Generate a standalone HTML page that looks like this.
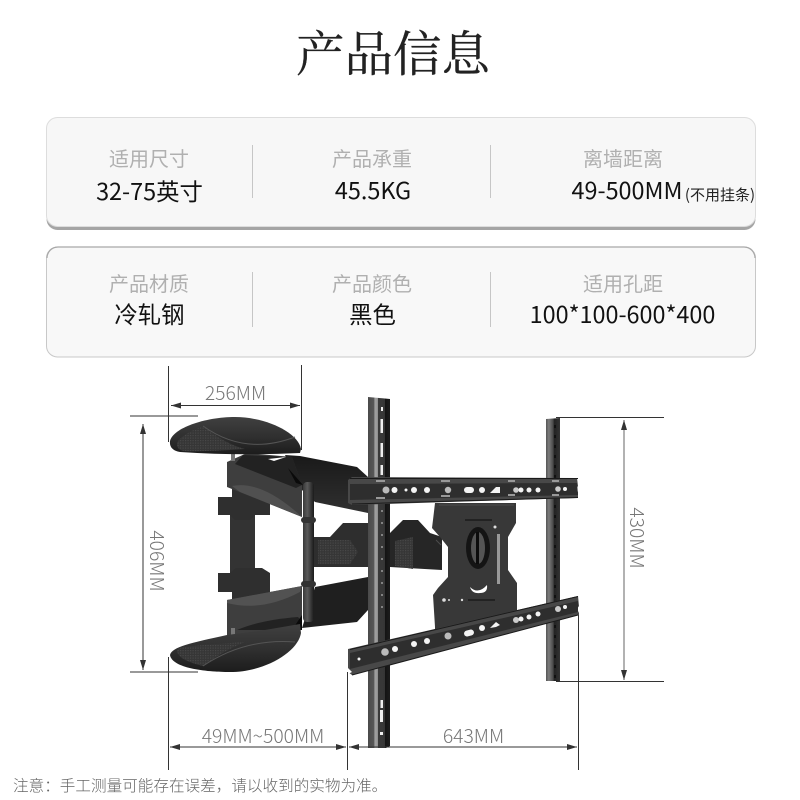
<!DOCTYPE html>
<html lang="zh"><head><meta charset="utf-8"><title>产品信息</title>
<style>
html,body{margin:0;padding:0;background:#fff}
svg{display:block}
text{font-family:"Noto Sans CJK SC","Liberation Sans",sans-serif}
.l{font-size:20px;fill:#b0b0b0;text-anchor:middle;font-weight:400}
.v{font-size:23.400px;fill:#111;text-anchor:middle;font-weight:400}
.d{font-size:19.300px;fill:#777;text-anchor:middle;font-weight:300}
</style></head><body>
<svg width="800" height="800" viewBox="0 0 800 800" xmlns="http://www.w3.org/2000/svg">
<defs>
<linearGradient id="pad" x1="0" y1="0" x2="0" y2="1"><stop offset="0" stop-color="#404040"/><stop offset=".55" stop-color="#2f2f2f"/><stop offset="1" stop-color="#1c1c1c"/></linearGradient>
<linearGradient id="arm" x1="0" y1="0" x2="0" y2="1"><stop offset="0" stop-color="#191919"/><stop offset="1" stop-color="#303030"/></linearGradient>
<linearGradient id="post" x1="0" y1="0" x2="1" y2="0"><stop offset="0" stop-color="#383838"/><stop offset=".4" stop-color="#5a5a5a"/><stop offset="1" stop-color="#1a1a1a"/></linearGradient>
<linearGradient id="col" x1="0" y1="0" x2="1" y2="0">
<stop offset="0" stop-color="#4a4a4a"/><stop offset=".28" stop-color="#585858"/><stop offset=".3" stop-color="#a0a0a0"/><stop offset=".44" stop-color="#989898"/><stop offset=".46" stop-color="#3a3a3a"/><stop offset=".76" stop-color="#363636"/><stop offset=".78" stop-color="#141414"/><stop offset="1" stop-color="#1c1c1c"/></linearGradient>
<linearGradient id="col2" x1="0" y1="0" x2="1" y2="0">
<stop offset="0" stop-color="#555"/><stop offset=".2" stop-color="#7c7c7c"/><stop offset=".5" stop-color="#4a4a4a"/><stop offset=".6" stop-color="#222"/><stop offset="1" stop-color="#333"/></linearGradient>
<pattern id="dots" width="2.500" height="2.500" patternUnits="userSpaceOnUse"><rect width="2.500" height="2.500" fill="#363636"/><rect width="1.200" height="1.200" fill="#484848"/></pattern>
<marker id="a" viewBox="0 0 10 6" refX="10" refY="3" markerWidth="10" markerHeight="6" orient="auto-start-reverse" markerUnits="userSpaceOnUse"><path d="M0,0L10,3L0,6Z" fill="#333"/></marker>
</defs>

<text x="393" y="71" font-size="48.500" text-anchor="middle" fill="#222" stroke="#222" stroke-width=".3" style="font-family:'Noto Serif CJK SC',serif">产品信息</text>

<rect x="46.500" y="120" width="709" height="110" rx="11" fill="#a5a5a5"/>
<rect x="46.500" y="117.500" width="709" height="109" rx="11" fill="#f7f7f7" stroke="#ddd"/>
<rect x="46.500" y="247" width="709" height="110" rx="11" fill="#f8f8f8" stroke="#c8c8c8"/>
<path d="M47 258a11 11 0 0 1 11-11H744a11 11 0 0 1 11 11" fill="none" stroke="#a8a8a8" stroke-width="1.200"/>
<path d="M252.500 145V198M490.500 145V198M252.500 272V327M490.500 272V327" stroke="#c6c6c6"/>

<text class="l" x="149" y="166">适用尺寸</text>
<text class="l" x="372" y="166">产品承重</text>
<text class="l" x="623" y="166">离墙距离</text>
<text class="l" x="149" y="291">产品材质</text>
<text class="l" x="372" y="291">产品颜色</text>
<text class="l" x="623" y="291">适用孔距</text>
<text class="v" x="149.500" y="200">32-75英寸</text>
<text class="v" x="373" y="199">45.5KG</text>
<text class="v" x="627" y="199">49-500MM</text>
<text x="720" y="200" font-size="15" fill="#222" text-anchor="middle">(不用挂条)</text>
<text class="v" x="149.500" y="323">冷轧钢</text>
<text class="v" x="372.500" y="323">黑色</text>
<text class="v" x="622.500" y="323">100*100-600*400</text>

<!-- mount: hinge -->
<path d="M230,510H255V575H230Z" fill="#333"/>
<path d="M218,497H232V480H270V515H255L250,520H235L230,515H218Z" fill="#2f2f2f"/>
<path d="M218,573H230L236,568H262L270,573V602H232V592H218Z" fill="#2f2f2f"/>
<!-- arms -->
<path d="M285,455L300,456L357,467L368,477V513L315,502L302,490Z" fill="url(#arm)"/>
<path d="M315,587L368,577V610L357,622L302,628Z" fill="#1f1f1f"/>
<path d="M227,462L247,453L292,457L302,485V517L227,487Z" fill="#3e3e3e"/>
<path d="M243,455L292,457L302,485L296,488L235,464Z" fill="#222"/>
<path d="M232,486Q262,480 302,517L240,492Z" fill="#505050"/>
<path d="M227,600L302,586V620L297,628L240,636H227Z" fill="#3e3e3e"/>
<path d="M227,600L302,586L300,592Q262,612 227,603Z" fill="#525252"/>
<path d="M237,630Q260,620 298,617L302,622V630H240Z" fill="#222"/>
<path d="M288,468L303,485L296,483Z" fill="#0a0a0a"/>
<path d="M292,630L302,615V630Z" fill="#0a0a0a"/>
<path d="M268,459L286,457L274,461Z" fill="#fff"/>
<rect x="231" y="453" width="4" height="8" fill="#777"/>
<rect x="231" y="628" width="4" height="8" fill="#777"/>
<path d="M303,537H330L343,523H368V567H303Z" fill="#2e2e2e"/>
<rect x="303" y="482" width="11" height="140" rx="4" fill="url(#post)"/>
<rect x="301" y="517" width="15" height="6" rx="3" fill="#333"/>
<rect x="301" y="581" width="15" height="6" rx="3" fill="#333"/>
<path d="M318,540H350L358,552L350,564H318Z" fill="url(#dots)"/>
<path d="M390,533L403,520H418L430,533L442,537V570L390,567Z" fill="#262626"/>
<path d="M395,541L413,537V569L395,566Z" fill="url(#dots)"/>

<!-- pads -->
<path d="M170,441C173,428 205,417 235,417C265,417 298,432 301,449L300,453Q240,456 180,452Q169,450 170,441Z" fill="url(#pad)"/>
<path d="M177,444Q178,436 203,426Q225,444 245,449Q200,452 184,451Q177,450 177,444Z" fill="url(#dots)"/>
<path d="M203,426Q245,456 295,437" fill="none" stroke="#555"/>
<path d="M170,655C172,647 190,643 227,635L265,630L300,624L301,633C298,652 265,672 230,672C205,672 172,668 170,655Z" fill="url(#pad)"/>
<path d="M177,651Q178,660 203,666Q225,650 245,642Q200,645 184,647Q177,648 177,651Z" fill="url(#dots)"/>
<path d="M203,666Q245,638 295,642" fill="none" stroke="#555"/>

<!-- wall columns -->
<path d="M368,397L390,399V746L386,748H368Z" fill="url(#col)"/>
<path d="M546,419L560,418V681L546,681Z" fill="url(#col2)"/>

<!-- plate -->
<path d="M435,503L516,503V523L508,537V570L517,583V612L435,634V627L433,595L438,588L448,577V547L440,537L432,528L433,520Z" fill="#383838"/>
<path d="M439,505H514M436,540L441,545" stroke="#4c4c4c" fill="none"/>
<path d="M465,520H492M468,600H495" stroke="#1a1a1a" stroke-width="1.500"/>
<ellipse cx="478" cy="548" rx="12" ry="21" fill="#141414"/>
<ellipse cx="478" cy="548" rx="7" ry="16" fill="#555"/>
<rect x="476" y="532" width="3" height="32" fill="#0c0c0c"/>
<path d="M497,534H500V584H497Z" fill="#999"/>
<path d="M470,587Q478,595 487,585Q488,593 480,593Q472,594 470,587Z" fill="#fff"/>
<g fill="#ddd"><circle cx="444" cy="600" r="1.800"/><circle cx="449" cy="600" r="1"/><circle cx="495" cy="527" r="1.500"/><circle cx="462" cy="600" r="1.200"/></g>

<!-- column holes -->
<g fill="#eee">
<rect x="381" y="407" width="2" height="4"/><rect x="380.500" y="419" width="2.500" height="14"/><rect x="380.500" y="443" width="2.500" height="14"/><rect x="380.500" y="465" width="2.500" height="10"/>
<rect x="380.500" y="700" width="2.500" height="8"/><rect x="380" y="710" width="3" height="12"/><rect x="380" y="732" width="3" height="3"/>
</g>
<path d="M382,510V610" stroke="#aaa" stroke-width="1.300" stroke-dasharray="2 10"/>
<path d="M555,425V678" stroke="#0a0a0a" stroke-width="1.500" stroke-dasharray="3 7"/>

<!-- rails -->
<path d="M348,480L352,477L577,478L578,486L576,489L578,492V498L352,505L348,503Z" fill="#484848"/>
<path d="M350,484L577,483L578,495L350,500Z" fill="#2e2e2e"/>
<path d="M350,478.500L578,478.500" stroke="#1a1a1a"/>
<path d="M352,504L578,497.500" stroke="#1a1a1a"/>
<path d="M348,649L578,596L579,606L577,609L579,613V615L352,675L348,672Z" fill="#484848"/>
<path d="M350,653L578,601V612L350,669Z" fill="#2e2e2e"/>
<path d="M350,649.500L578,596.500" stroke="#1a1a1a"/>
<path d="M352,675L578,615" stroke="#1a1a1a"/>
<g fill="#999">
<rect x="376" y="480" width="9" height="2"/><rect x="376" y="497" width="9" height="2"/>
<rect x="441" y="480" width="9" height="2"/><rect x="441" y="495" width="9" height="2"/>
<rect x="508" y="480" width="7" height="2"/><rect x="508" y="494" width="7" height="2"/>
<rect x="552" y="480" width="7" height="2"/><rect x="552" y="494" width="7" height="2"/>
</g>
<g fill="#f4f4f4">
<circle cx="386" cy="490" r="3.500" fill="#bbb"/><circle cx="394.500" cy="490" r="3"/><circle cx="406" cy="490" r="1.500"/><circle cx="414" cy="490" r="3"/><circle cx="427" cy="490" r="3"/>
<circle cx="448" cy="490" r="3.200" fill="#bbb"/><rect x="464" y="487" width="10" height="6" rx="3"/><circle cx="482" cy="490" r="3"/>
<path d="M490,493L496,487H500V493Z"/><circle cx="516" cy="490" r="2.800" fill="#ccc"/><circle cx="521" cy="490" r="2.500"/><circle cx="529" cy="490" r="2.500"/><circle cx="538" cy="490" r="2.500"/>
<circle cx="558" cy="489" r="2.800" fill="#ccc"/><circle cx="565" cy="489" r="2"/>
<circle cx="385" cy="652" r="3.800" fill="#bbb"/><circle cx="395" cy="649" r="3"/><circle cx="414" cy="644" r="3"/><circle cx="427" cy="641" r="3"/>
<circle cx="448" cy="636" r="3.500" fill="#bbb"/><rect x="464" y="630" width="10" height="6" rx="3" transform="rotate(-14 469 633)"/><circle cx="482" cy="628" r="3"/>
<path d="M490,628L496,622L500,625L496,627Z"/>
<circle cx="516" cy="620" r="3" fill="#ccc"/><circle cx="521" cy="619" r="2.500"/><circle cx="529" cy="617" r="2.500"/><circle cx="538" cy="614" r="2.500"/>
<circle cx="558" cy="609" r="3" fill="#ccc"/><circle cx="565" cy="607" r="2"/><circle cx="359" cy="659" r="1.500"/>
</g>
<path d="M348,668L352,672L348,674Z" fill="#fff"/>

<!-- dimension lines -->
<g stroke="#333" stroke-width="1" fill="none">
<path d="M168.500,366V442M301.500,365V450"/>
<path d="M130,416H198M130,672H198"/>
<path d="M556,417.500H664M556,681.500H664"/>
<path d="M168.500,657V770M347.500,672V770M578.500,615V770"/>
<path d="M171,405.500H300" marker-start="url(#a)" marker-end="url(#a)"/>
<path d="M143,424V670" marker-start="url(#a)" marker-end="url(#a)"/>
<path d="M624,420V680" stroke="#666" marker-start="url(#a)" marker-end="url(#a)"/>
<path d="M170,747H346" marker-start="url(#a)" marker-end="url(#a)"/>
<path d="M349,747H577" marker-start="url(#a)" marker-end="url(#a)"/>
</g>
<text class="d" x="235.500" y="400">256MM</text>
<text class="d" x="263" y="743">49MM~500MM</text>
<text class="d" x="473.500" y="743">643MM</text>
<text class="d" transform="translate(150 561) rotate(90)">406MM</text>
<text class="d" transform="translate(630 538) rotate(90)">430MM</text>

<text x="13" y="791" font-size="15.600" fill="#666" style="font-weight:300">注意&#xFF1A;手工测量可能存在误差&#xFF0C;请以收到的实物为准。</text>
</svg>
</body></html>
